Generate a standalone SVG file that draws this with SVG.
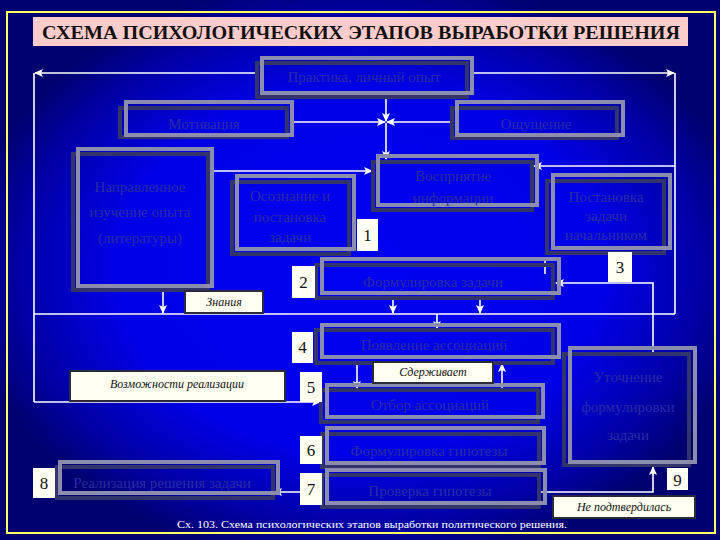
<svg xmlns="http://www.w3.org/2000/svg" width="720" height="540" viewBox="0 0 720 540">
<defs>
<radialGradient id="bg" cx="50%" cy="50%" r="55%">
<stop offset="0" stop-color="#0000f2"/>
<stop offset="0.62" stop-color="#0000e6"/>
<stop offset="0.85" stop-color="#0000a8"/>
<stop offset="1" stop-color="#000070"/>
</radialGradient>
<marker id="ah" markerWidth="9" markerHeight="8" refX="8" refY="4" orient="auto" markerUnits="userSpaceOnUse">
<path d="M0,0 L9,4 L0,8 L2,4 z" fill="#ffffff"/>
</marker>
<style>
.g{fill:none;stroke:#8c8cae;stroke-width:4}
.d{fill:none;stroke:#34346c;stroke-width:4}
.t{font-family:'Liberation Serif','Times New Roman','DejaVu Serif',serif;font-size:15px;fill:#2c2ca4;text-anchor:middle}
.n{fill:#fffff2}
.nt{font-family:'Liberation Serif','Times New Roman','DejaVu Serif',serif;font-size:17px;fill:#111111;text-anchor:middle}
.lb{fill:#fffff2;stroke:#2a2a3a;stroke-width:2}
.lt{font-family:'Liberation Serif','Times New Roman','DejaVu Serif',serif;font-style:italic;font-size:12px;fill:#111111;text-anchor:middle}
.hd{font-family:'Liberation Serif','Times New Roman','DejaVu Serif',serif;font-weight:bold;font-size:18px;fill:#111111}
.cap{font-family:'Liberation Serif','Times New Roman','DejaVu Serif',serif;font-size:11px;fill:#ffffff}
.c{fill:none;stroke:#ffffff;stroke-width:1.6}
.a{marker-end:url(#ah)}
</style>
</defs>
<rect x="0" y="0" width="720" height="540" fill="url(#bg)"/>
<rect x="7" y="12" width="708" height="521" fill="none" stroke="#ffff66" stroke-width="2"/>
<g id="title">
<rect x="33" y="17" width="655" height="29" fill="#ffcccc"/>
<text class="hd" x="42" y="39" textLength="638" lengthAdjust="spacingAndGlyphs">СХЕМА ПСИХОЛОГИЧЕСКИХ ЭТАПОВ ВЫРАБОТКИ РЕШЕНИЯ</text>
</g>
<g id="connectors">
<path class="c a" d="M257,73 H35"/>
<path class="c" d="M34,73 V402"/>
<path class="c a" d="M472,73 H674"/>
<path class="c" d="M675,73 V314"/>
<path class="c a" d="M675,166 H534"/>
<path class="c" d="M34,314 H675"/>
<path class="c a" d="M437,314 V329"/>
<path class="c a" d="M163,290 V313"/>
<path class="c a" d="M393,298 V313"/>
<path class="c a" d="M480,298 V313"/>
<path class="c a" d="M210,171 H372"/>
<path class="c a" d="M290,122 H385"/>
<path class="c a" d="M452,122 H387"/>
<path class="c a" d="M386,97 V121"/>
<path class="c a" d="M386,123 V159"/>
<path class="c a" d="M34,402 H320"/>
<path class="c a" d="M357,363 V389"/>
<path class="c a" d="M502,388 V364"/>
<path class="c a" d="M322,492 H274"/>
<path class="c a" d="M539,492 H653 V467"/>
<path class="c a" d="M653,353 V283 H556"/>
<path class="c" d="M545,258 V274"/>
</g>
<g id="praktika">
<rect class="d" x="257" y="63" width="210" height="34"/>
<rect class="g" x="262" y="58" width="210" height="35"/>
<text class="t" x="364" y="82" font-size="14">Практика, личный опыт</text>
</g>
<g id="motivatsiya">
<rect class="d" x="120" y="108" width="167" height="29"/>
<rect class="g" x="126" y="102" width="166" height="33"/>
<text class="t" x="204" y="129">Мотивация</text>
</g>
<g id="oshchushchenie">
<rect class="d" x="452" y="108" width="165" height="30"/>
<rect class="g" x="457" y="102" width="166" height="33"/>
<text class="t" x="536" y="129">Ощущение</text>
</g>
<g id="napravlennoe">
<rect class="d" x="73" y="154" width="135" height="136"/>
<rect class="g" x="78" y="149" width="134" height="137"/>
<text class="t" x="140" y="192">Направленное</text>
<text class="t" x="140" y="217">изучение опыта</text>
<text class="t" x="140" y="243">(литературы)</text>
</g>
<g id="osoznanie">
<rect class="d" x="232" y="182" width="117" height="72"/>
<rect class="g" x="237" y="176" width="117" height="73"/>
<text class="t" x="290" y="201">Осознание и</text>
<text class="t" x="290" y="222">постановка</text>
<text class="t" x="290" y="242">задачи</text>
</g>
<g id="vospriyatie">
<rect class="d" x="373" y="162" width="159" height="48"/>
<rect class="g" x="378" y="156" width="159" height="49"/>
<text class="t" x="453" y="181">Восприятие</text>
<text class="t" x="453" y="203">информации</text>
</g>
<g id="postanovka">
<rect class="d" x="547" y="181" width="117" height="72"/>
<rect class="g" x="553" y="175" width="117" height="73"/>
<text class="t" x="606" y="202">Постановка</text>
<text class="t" x="606" y="221">задачи</text>
<text class="t" x="606" y="240">начальником</text>
</g>
<g id="formulirovka-zadachi">
<rect class="d" x="316" y="265" width="237" height="33"/>
<rect class="g" x="322" y="259" width="237" height="34"/>
<text class="t" x="433" y="287">Формулировка задачи</text>
</g>
<g id="poyavlenie">
<rect class="d" x="316" y="330" width="237" height="33"/>
<rect class="g" x="322" y="325" width="237" height="32"/>
<text class="t" x="434" y="350">Появление ассоциаций</text>
</g>
<g id="otbor">
<rect class="d" x="321" y="390" width="217" height="32"/>
<rect class="g" x="327" y="385" width="216" height="32"/>
<text class="t" x="430" y="410">Отбор ассоциаций</text>
</g>
<g id="formulirovka-gipotezy">
<rect class="d" x="322" y="434" width="217" height="33"/>
<rect class="g" x="327" y="428" width="217" height="35"/>
<text class="t" x="429" y="456">Формулировка гипотезы</text>
</g>
<g id="proverka">
<rect class="d" x="322" y="475" width="217" height="32"/>
<rect class="g" x="327" y="470" width="218" height="33"/>
<text class="t" x="430" y="496">Проверка гипотезы</text>
</g>
<g id="realizatsiya">
<rect class="d" x="57" y="467" width="216" height="31"/>
<rect class="g" x="60" y="462" width="218" height="31"/>
<text class="t" x="162" y="488">Реализация решения задачи</text>
</g>
<g id="utochnenie">
<rect class="d" x="564" y="354" width="125" height="111"/>
<rect class="g" x="570" y="348" width="125" height="114"/>
<text class="t" x="628" y="382">Уточнение</text>
<text class="t" x="628" y="412">формулировки</text>
<text class="t" x="628" y="440">задачи</text>
</g>
<g id="num-1"><rect class="n" x="357" y="219" width="21" height="32"/><text class="nt" x="367.5" y="241">1</text></g>
<g id="num-2"><rect class="n" x="292" y="266" width="23" height="32"/><text class="nt" x="303.5" y="288">2</text></g>
<g id="num-3"><rect class="n" x="608" y="252" width="24" height="30"/><text class="nt" x="620" y="273">3</text></g>
<g id="num-4"><rect class="n" x="292" y="332" width="21" height="31"/><text class="nt" x="302.5" y="353">4</text></g>
<g id="num-5"><rect class="n" x="300" y="372" width="22" height="30"/><text class="nt" x="311" y="393">5</text></g>
<g id="num-6"><rect class="n" x="300" y="436" width="22" height="28"/><text class="nt" x="311" y="456">6</text></g>
<g id="num-7"><rect class="n" x="300" y="473" width="22" height="32"/><text class="nt" x="311" y="495">7</text></g>
<g id="num-8"><rect class="n" x="33" y="468" width="22" height="30"/><text class="nt" x="44" y="489">8</text></g>
<g id="num-9"><rect class="n" x="667" y="468" width="21" height="22"/><text class="nt" x="677.5" y="486">9</text></g>
<g id="label-znaniya"><rect class="lb" x="185" y="291" width="78" height="22"/><text class="lt" x="224" y="306">Знания</text></g>
<g id="label-vozmozhnosti"><rect class="lb" x="70" y="371" width="215" height="30"/><text class="lt" x="177" y="388">Возможности реализации</text></g>
<g id="label-sderzhivaet"><rect class="lb" x="373" y="362" width="120" height="21"/><text class="lt" x="433" y="376">Сдерживает</text></g>
<g id="label-ne-podtverdilas"><rect class="lb" x="553" y="496" width="142" height="22"/><text class="lt" x="624" y="511">Не подтвердилась</text></g>
<text class="cap" x="177" y="528" textLength="390" lengthAdjust="spacingAndGlyphs">Сх. 103. Схема психологических этапов выработки политического решения.</text>
</svg>
